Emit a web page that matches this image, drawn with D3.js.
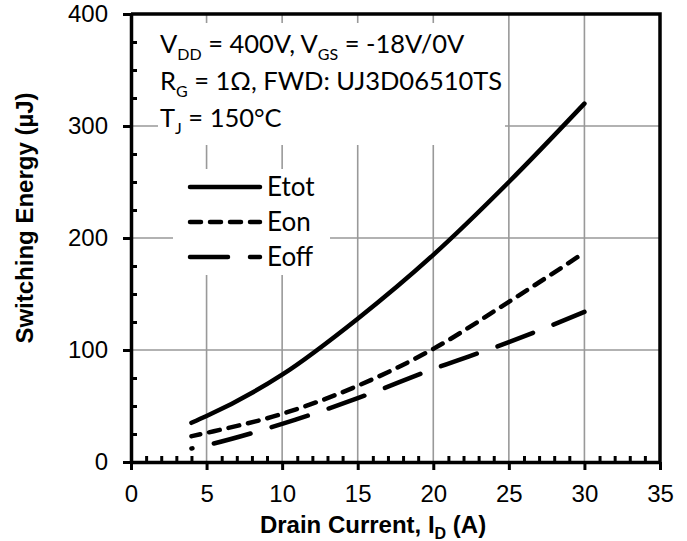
<!DOCTYPE html>
<html>
<head>
<meta charset="utf-8">
<script src="https://cdn.jsdelivr.net/npm/d3@7"></script>
<style>
  body { margin: 0; background: #fff; }
  svg { display: block; }
</style>
</head>
<body>
<script>
// values
var current = [4, 5, 10, 15, 20, 25, 30];
var etot = [35, 41, 78, 128, 185, 250, 320];
var eon = [23, 26, 43, 68, 101, 143, 187];
var eoff = [12, 15, 34, 57, 83, 107, 134];
var seriesNames = ['Etot', 'Eon', 'Eoff'];
var xTicks = [0, 5, 10, 15, 20, 25, 30, 35];
var yTicks = [0, 100, 200, 300, 400];

var margin = { top: 14, right: 27, bottom: 79, left: 131 },
  width = 687 - margin.left - margin.right,
  height = 541 - margin.top - margin.bottom;

var axisFont = 'Arial, "Liberation Sans", Helvetica, sans-serif';
var noteFont = 'Lato, "Open Sans", sans-serif';

var svg = d3
  .select('body')
  .append('svg')
  .attr('width', width + margin.left + margin.right)
  .attr('height', height + margin.top + margin.bottom);

var g = svg
  .append('g')
  .attr('transform', 'translate(' + margin.left + ',' + margin.top + ')');

var xScale = d3.scaleLinear().domain([0, 35]).range([0, width]);
var yScale = d3.scaleLinear().domain([0, 400]).range([height, 0]);

// gridlines
g.selectAll('.vgrid')
  .data(xTicks.slice(1, -1))
  .enter()
  .append('line')
  .attr('x1', function (d) { return xScale(d); })
  .attr('x2', function (d) { return xScale(d); })
  .attr('y1', 0)
  .attr('y2', height)
  .style('stroke', '#999')
  .style('stroke-width', 1.6);

g.selectAll('.hgrid')
  .data(yTicks.slice(1, -1))
  .enter()
  .append('line')
  .attr('x1', 0)
  .attr('x2', width)
  .attr('y1', function (d) { return yScale(d); })
  .attr('y2', function (d) { return yScale(d); })
  .style('stroke', '#999')
  .style('stroke-width', 1.6);

// white boxes behind the note and the legend
g.append('rect')
  .attr('x', 27).attr('y', 9)
  .attr('width', 347).attr('height', 122)
  .style('fill', '#fff');
g.append('rect')
  .attr('x', 42).attr('y', 155)
  .attr('width', 157).attr('height', 106)
  .style('fill', '#fff');

// curves
var rows = [etot, eon, eoff];
var dashes = [null, '11,9', '38,22'];
var offsets = [0, 2, 37];

var line = d3
  .line()
  .x(function (d, i) { return xScale(current[i]); })
  .y(function (d) { return yScale(d); })
  .curve(d3.curveMonotoneX);

rows.forEach(function (vals, k) {
  g.append('path')
    .datum(vals)
    .attr('d', line)
    .style('fill', 'none')
    .style('stroke', '#000')
    .style('stroke-width', 4.5)
    .style('stroke-linecap', 'round')
    .style('stroke-dasharray', dashes[k])
    .style('stroke-dashoffset', offsets[k]);
});

// axes
var xAxis = d3.axisBottom(xScale).tickValues(xTicks).tickSize(8).tickSizeOuter(0).tickPadding(15);
var yAxis = d3.axisLeft(yScale).tickValues(yTicks).tickSize(8).tickSizeOuter(0).tickPadding(15);

var minorX = d3.range(1, 35).filter(function (d) { return d % 5 !== 0; });
var minorY = d3.range(25, 400, 25).filter(function (d) { return d % 100 !== 0; });

g.append('g')
  .attr('transform', 'translate(0,' + height + ')')
  .call(d3.axisBottom(xScale).tickValues(minorX).tickSize(-6).tickSizeOuter(0).tickFormat(''))
  .call(function (s) { s.select('.domain').remove(); });

g.append('g')
  .call(d3.axisLeft(yScale).tickValues(minorY).tickSize(-6).tickSizeOuter(0).tickFormat(''))
  .call(function (s) { s.select('.domain').remove(); });

g.append('g')
  .attr('class', 'x axis')
  .attr('transform', 'translate(0,' + height + ')')
  .call(xAxis);
g.append('g')
  .attr('class', 'y axis')
  .call(yAxis);

g.selectAll('.tick line').style('stroke', '#000').style('stroke-width', 3);
g.selectAll('.domain').style('stroke', '#000').style('stroke-width', 3.5);
g.selectAll('.axis').attr('font-family', axisFont).attr('font-size', 24);
g.selectAll('.axis text').style('fill', '#000');

// top and right border
g.append('path')
  .attr('d', 'M0,0H' + width + 'V' + height)
  .style('fill', 'none')
  .style('stroke', '#000')
  .style('stroke-width', 3.5);

// axis titles
var xt = svg.append('text')
  .attr('x', 373)
  .attr('y', 533)
  .attr('font-family', axisFont)
  .attr('font-weight', 'bold')
  .attr('font-size', 24)
  .style('text-anchor', 'middle');
xt.append('tspan').text('Drain Current, I');
xt.append('tspan').attr('dy', 6).attr('font-size', 16).text('D');
xt.append('tspan').attr('dy', -6).text(' (A)');

svg.append('text')
  .attr('transform', 'translate(33,218) rotate(-90)')
  .attr('font-family', axisFont)
  .attr('font-weight', 'bold')
  .attr('font-size', 24)
  .style('text-anchor', 'middle')
  .text('Switching Energy (\u00b5J)');

// note
var noteLines = [
  [['V', 0], ['DD', 1], [' = 400V, V', 0], ['GS', 1], [' = -18V/0V', 0]],
  [['R', 0], ['G', 1], [' = 1\u03a9, FWD: UJ3D06510TS', 0]],
  [['T', 0], ['J', 1], [' = 150\u00b0C', 0]]
];
noteLines.forEach(function (parts, i) {
  var t = svg.append('text')
    .attr('x', 160)
    .attr('y', 53 + i * 37)
    .attr('font-family', noteFont)
    .attr('font-size', 25.5);
  var prev = 0;
  parts.forEach(function (p) {
    t.append('tspan')
      .attr('dy', (p[1] - prev) * 7)
      .attr('font-size', p[1] ? 16 : 25.5)
      .text(p[0]);
    prev = p[1];
  });
});

// legend
var legend = svg.append('g').attr('transform', 'translate(190,187)');
seriesNames.forEach(function (name, i) {
  legend.append('line')
    .attr('x1', 0).attr('x2', 70)
    .attr('y1', i * 35).attr('y2', i * 35)
    .style('stroke', '#000')
    .style('stroke-width', 4.5)
    .style('stroke-linecap', 'round')
    .style('stroke-dasharray', dashes[i]);
  legend.append('text')
    .attr('x', 77)
    .attr('y', i * 35)
    .attr('dy', '.35em')
    .attr('font-family', noteFont)
    .attr('font-size', 26)
    .text(name);
});
</script>
</body>
</html>
